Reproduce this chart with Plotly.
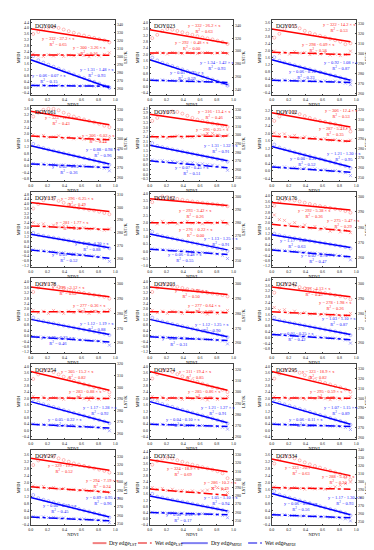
import plotly.graph_objects as go

# ---------------- data ----------------
doy = ["DOY004", "DOY023", "DOY055", "DOY061", "DOY075", "DOY102",
       "DOY137", "DOY162", "DOY176", "DOY178", "DOY203", "DOY242",
       "DOY254", "DOY274", "DOY295", "DOY297", "DOY322", "DOY334"]

ndvi = [0.03, 0.09, 0.15, 0.21, 0.27, 0.33, 0.39, 0.45,
        0.51, 0.57, 0.63, 0.69, 0.75, 0.81, 0.87, 0.93]
fit_ndvi = [0.0, 0.93]

mpdi_range = [[-0.55, 4.55], [-0.55, 4.15], [-0.55, 3.75], [-0.95, 3.75], [-0.45, 4.35], [-0.55, 3.45],
              [-1.35, 5.0], [-1.1, 4.1], [-1.3, 4.3], [-1.3, 4.3], [-1.3, 4.3], [-1.1, 4.1],
              [-0.55, 4.15], [-0.55, 4.15], [-0.55, 4.15], [-0.45, 3.85], [-0.45, 4.5], [-0.45, 3.85]]
mpdi_dtick = [0.4, 0.4, 0.4, 0.4, 0.3, 0.4, 0.4, 0.5, 0.4, 0.4, 0.4, 0.4, 0.4, 0.4, 0.4, 0.4, 0.4, 0.4]
lst_range = [[252, 346], [232, 348], [258, 334], [256, 334], [246, 334], [246, 324],
             [253, 312], [245, 304], [254, 303], [253, 304], [253, 304], [253, 304],
             [255, 320], [258, 325], [258, 335], [248, 338], [244, 336], [246, 340]]
lst_dtick = [10, 20, 10, 10, 10, 10, 10, 10, 10, 10, 10, 10, 10, 10, 10, 10, 10, 10]

# fitted edges: value at NDVI=0 and at the end of the fit
dry_lst_fit = [[335, 319.7], [332.9, 312], [324.9, 312], [328.5, 314.5], [324.3, 311.1], [317, 302.2],
               [303.7, 296.7], [298.7, 293.4], [296.1, 291.2], [297.9, 291.3], [297.9, 292.8], [297.9, 291.3],
               [313.5, 297.3], [318.3, 301.6], [327.3, 308], [328.1, 313.7], [324, 309.3], [328.7, 308]]
wet_lst_fit = [[302.3, 301.8], [297, 297], [301.3, 299], [302.8, 298.9], [297.9, 298.8], [292.8, 287.3],
               [285.4, 282.5], [279.8, 279.8], [281.9, 277.5], [281.1, 281.1], [281.1, 280.5], [281.1, 278.5],
               [290.8, 290.2], [294.9, 294.3], [300.4, 300], [293.9, 287.6], [288.2, 280.8], [293, 291.1]]
dry_mpdi_fit = [[1.85, -0.04], [1.66, 0.11], [1.47, 0.31], [1.26, 0.13], [1.85, 0.85], [1.29, 0.21],
                [1.44, 0.30], [1.19, 0.10], [1.11, 0.16], [1.22, 0.10], [1.22, -0.07], [1.24, 0.20],
                [1.80, 0.48], [1.80, 0.48], [1.80, 0.39], [1.14, 0.02], [1.48, 0.49], [1.36, 0.15]]
wet_mpdi_fit = [[0.11, 0.06], [0.39, 0.25], [0.31, 0.18], [0.13, -0.10], [0.85, 0.41], [0.21, -0.07],
                [0.11, -0.59], [0.15, -0.22], [-0.01, -0.52], [-0.07, -0.46], [-0.07, -0.35], [0.20, -0.16],
                [0.39, 0.15], [0.39, 0.25], [0.39, 0.25], [0.02, -0.19], [0.39, 0.24], [0.15, -0.02]]

dry_lst = [
    [328.5, 331, 334.5, 336.5, 337, 336, 334, 332, 330, 328, 326.5, 325, 323.5, 322, 320.5, 318],
    [320, 325, 331, 334, 333, 331, 329, 327, 325, 323, 321, 319.5, 318, 316, 314, 311],
    [316, 320, 325, 328, 327.5, 325.5, 323, 321, 319.5, 318, 316.5, 315, 313.5, 312, 309.5, 310.5],
    [323, 327, 330, 331, 331, 329.5, 327, 325, 323, 321.5, 320, 318.5, 317, 315.5, 313.5, 312],
    [316.5, 320, 324, 326.5, 327.5, 327, 325, 322.5, 320, 318, 316.5, 315, 313.5, 312.5, 311, 309.5],
    [308.5, 313, 316.5, 318, 317, 315.5, 313.5, 311.5, 310, 308.5, 307.5, 306, 305, 303.5, 301, 297.5],
    [299, 302.5, 305.5, 307, 306.5, 305, 303.5, 302, 300.5, 299.5, 299, 298, 297.5, 296.5, 295.5, 294.5],
    [296, 299, 300.5, 300, 299.2, 298.5, 297.8, 297, 296.5, 296, 295.5, 295, 294.6, 294.2, 293.6, 292.8],
    [294, 296.5, 298, 298, 297.5, 296.8, 296, 295.2, 294.5, 293.8, 293.2, 292.6, 292, 291.4, 290.6, 289.5],
    [294.5, 297.5, 299.5, 299.8, 299, 298, 297, 296, 295.2, 294.5, 293.8, 293.2, 292.6, 292, 291.2, 290],
    [294.5, 297.5, 299.5, 299.5, 298.8, 298, 297.2, 296.4, 295.8, 295.2, 294.6, 294, 293.5, 293, 292.4, 291.5],
    [294, 297.5, 299.5, 299.5, 298.8, 297.8, 297, 296, 295.2, 294.4, 293.7, 293, 292.4, 291.7, 290.8, 289.5],
    [307, 311, 314, 314.5, 313, 311, 309, 307, 305.5, 304, 302.5, 301.5, 300, 299, 297.5, 295.5],
    [312, 316, 319, 319.5, 318, 316, 314, 312, 310.5, 309, 307.5, 306, 304.5, 303.5, 302, 300],
    [320, 325, 328.5, 329.5, 328, 326, 323.5, 321, 319, 317, 315.5, 314, 312.5, 311, 309, 306.5],
    [320, 325.5, 329.5, 331, 330, 328, 326, 324, 322, 320.5, 319, 317.5, 316, 314.5, 313, 311],
    [318, 322.5, 325.5, 326.5, 325.5, 323.5, 321.5, 319.5, 318, 316.5, 315, 313.5, 312, 310, 307.5, 301.5],
    [323, 329, 332, 331.5, 329.5, 327, 324.5, 322, 320, 318, 316, 314, 312, 310, 306, 303],
]
wet_lst = [
    [303.5, 301, 300.5, 302.5, 301, 303, 300.5, 302, 301, 303, 301.5, 300, 302, 301, 303, 305],
    [296, 298, 297, 295.5, 298, 297, 296, 298.5, 297, 296, 297.5, 298, 296.5, 297, 298, 296],
    [302.5, 300, 301.5, 299.5, 302, 300.5, 301, 299, 300.5, 299.5, 301, 298.5, 299.5, 298, 299, 302.5],
    [304, 302.5, 303.5, 301.5, 302, 303, 300.5, 301.5, 300, 301, 299.5, 300.5, 299, 298.5, 299.5, 301],
    [299, 297, 298.5, 296.5, 298, 299, 297, 298.5, 297.5, 299, 300, 301.5, 302, 300, 298.5, 300],
    [296, 294.5, 295, 292.5, 293.5, 291, 292, 290.5, 291, 289.5, 290, 288.5, 289, 288, 287.5, 288.5],
    [288, 286.5, 287, 285, 286, 284.5, 285.5, 284, 284.5, 283.5, 284, 283, 283.5, 282.5, 282, 283],
    [280.5, 279, 281, 279.5, 280.5, 279, 280, 281, 279.5, 280, 279, 280.5, 279.5, 280, 281, 279],
    [288, 285, 284.5, 282, 283, 280.5, 281.5, 279.5, 280.5, 278.5, 279.5, 277.5, 278.5, 277, 278, 276.5],
    [282, 280.5, 281.5, 280, 282, 281, 280, 281.5, 280.5, 282, 281, 280, 281.5, 280.5, 281.5, 282.5],
    [282, 280.5, 281.5, 280, 281.5, 281, 280, 281.5, 280.5, 281.5, 280.5, 279.5, 281, 280, 281, 282],
    [284, 282, 282.5, 280.5, 281.5, 280, 280.5, 279.5, 280, 279, 279.5, 278.5, 279, 278, 278.5, 280],
    [292, 290, 291.5, 289.5, 291, 290.5, 289.5, 291, 290, 291.5, 290, 289, 290.5, 289.5, 290.5, 292],
    [296, 294, 295.5, 293.5, 295, 294.5, 293.5, 295, 294, 295.5, 294, 293, 294.5, 293.5, 294.5, 296],
    [301.5, 299.5, 301, 299, 300.5, 300, 299, 300.5, 299.5, 301, 299.5, 298.5, 300, 299, 300, 301.5],
    [295, 293.5, 294.5, 292, 293, 291.5, 292, 290.5, 291, 289.5, 290.5, 289, 289.5, 288, 288.5, 287],
    [290, 288, 289, 286.5, 288, 286, 286.5, 285, 286, 284.5, 286, 287, 289, 290, 288, 284],
    [294, 292, 293.5, 291.5, 293, 292, 291, 292.5, 291.5, 292, 291, 292.5, 294, 296, 298, 300],
]
dry_mpdi = [
    [2.1, 1.82, 1.66, 1.52, 1.38, 1.25, 1.12, 0.99, 0.86, 0.73, 0.61, 0.48, 0.36, 0.24, 0.1, -0.05],
    [1.8, 1.62, 1.48, 1.37, 1.27, 1.16, 1.06, 0.95, 0.85, 0.74, 0.64, 0.53, 0.43, 0.32, 0.2, 0.05],
    [1.62, 1.42, 1.32, 1.24, 1.16, 1.08, 1.0, 0.93, 0.85, 0.77, 0.7, 0.62, 0.55, 0.46, 0.38, 0.28],
    [1.38, 1.22, 1.12, 1.03, 0.96, 0.88, 0.8, 0.73, 0.65, 0.58, 0.5, 0.43, 0.35, 0.27, 0.18, 0.08],
    [1.98, 1.8, 1.72, 1.65, 1.58, 1.51, 1.45, 1.38, 1.31, 1.25, 1.18, 1.11, 1.05, 0.97, 0.9, 0.8],
    [1.4, 1.24, 1.15, 1.07, 0.99, 0.92, 0.85, 0.78, 0.71, 0.64, 0.56, 0.49, 0.42, 0.34, 0.26, 0.15],
    [1.55, 1.38, 1.3, 1.22, 1.14, 1.07, 0.99, 0.91, 0.84, 0.76, 0.68, 0.6, 0.53, 0.45, 0.36, 0.25],
    [1.35, 1.14, 1.05, 0.97, 0.89, 0.82, 0.75, 0.67, 0.6, 0.53, 0.45, 0.38, 0.3, 0.22, 0.14, 0.02],
    [1.2, 1.08, 1.0, 0.93, 0.86, 0.8, 0.73, 0.67, 0.6, 0.54, 0.48, 0.41, 0.35, 0.28, 0.2, 0.1],
    [1.35, 1.16, 1.07, 0.99, 0.92, 0.84, 0.76, 0.69, 0.61, 0.54, 0.46, 0.39, 0.31, 0.23, 0.15, 0.05],
    [1.35, 1.15, 1.06, 0.97, 0.88, 0.8, 0.71, 0.62, 0.53, 0.45, 0.36, 0.28, 0.19, 0.1, 0.01, -0.1],
    [1.36, 1.18, 1.1, 1.03, 0.96, 0.89, 0.82, 0.75, 0.68, 0.61, 0.54, 0.47, 0.41, 0.33, 0.25, 0.15],
    [1.95, 1.74, 1.64, 1.55, 1.46, 1.37, 1.28, 1.19, 1.1, 1.01, 0.92, 0.83, 0.74, 0.65, 0.56, 0.45],
    [1.93, 1.75, 1.65, 1.55, 1.47, 1.37, 1.29, 1.19, 1.11, 1.01, 0.93, 0.83, 0.75, 0.65, 0.56, 0.44],
    [1.95, 1.73, 1.63, 1.54, 1.44, 1.35, 1.25, 1.16, 1.06, 0.97, 0.87, 0.78, 0.68, 0.59, 0.49, 0.36],
    [1.28, 1.1, 1.01, 0.93, 0.86, 0.78, 0.71, 0.63, 0.56, 0.48, 0.4, 0.33, 0.25, 0.18, 0.1, 0.0],
    [1.62, 1.43, 1.37, 1.3, 1.23, 1.17, 1.1, 1.04, 0.97, 0.9, 0.84, 0.77, 0.7, 0.63, 0.55, 0.45],
    [1.5, 1.3, 1.21, 1.13, 1.05, 0.97, 0.89, 0.81, 0.72, 0.64, 0.56, 0.48, 0.4, 0.32, 0.23, 0.12],
]
wet_mpdi = [
    [0.14, 0.09, 0.12, 0.08, 0.11, 0.13, 0.08, 0.1, 0.12, 0.07, 0.09, 0.11, 0.06, 0.08, 0.04, -0.02],
    [0.42, 0.37, 0.4, 0.36, 0.38, 0.35, 0.37, 0.33, 0.36, 0.32, 0.34, 0.3, 0.31, 0.27, 0.22, 0.1],
    [0.33, 0.28, 0.32, 0.29, 0.31, 0.27, 0.3, 0.26, 0.29, 0.25, 0.27, 0.23, 0.25, 0.2, 0.14, 0.05],
    [0.16, 0.1, 0.13, 0.08, 0.1, 0.06, 0.07, 0.03, 0.05, 0.0, 0.02, -0.03, -0.04, -0.08, -0.14, -0.3],
    [0.9, 0.84, 0.86, 0.8, 0.82, 0.76, 0.78, 0.71, 0.73, 0.66, 0.66, 0.6, 0.58, 0.52, 0.44, 0.25],
    [0.24, 0.18, 0.21, 0.15, 0.17, 0.12, 0.14, 0.08, 0.1, 0.04, 0.06, 0.0, 0.01, -0.05, -0.1, -0.25],
    [0.12, 0.06, 0.04, -0.03, -0.04, -0.12, -0.13, -0.2, -0.22, -0.28, -0.3, -0.37, -0.4, -0.47, -0.6, -0.85],
    [0.17, 0.14, 0.12, 0.09, 0.08, 0.05, 0.03, 0.0, -0.02, -0.05, -0.07, -0.1, -0.13, -0.18, -0.27, -0.5],
    [0.0, -0.04, -0.06, -0.1, -0.12, -0.16, -0.18, -0.22, -0.25, -0.28, -0.32, -0.35, -0.39, -0.43, -0.52, -0.75],
    [-0.05, -0.09, -0.1, -0.14, -0.15, -0.19, -0.2, -0.24, -0.25, -0.29, -0.31, -0.34, -0.36, -0.4, -0.48, -0.7],
    [-0.05, -0.08, -0.09, -0.12, -0.12, -0.15, -0.16, -0.19, -0.2, -0.22, -0.24, -0.27, -0.28, -0.32, -0.38, -0.6],
    [0.22, 0.17, 0.17, 0.13, 0.13, 0.09, 0.09, 0.05, 0.04, 0.01, -0.01, -0.05, -0.06, -0.1, -0.18, -0.4],
    [0.42, 0.37, 0.38, 0.34, 0.35, 0.31, 0.32, 0.28, 0.29, 0.25, 0.26, 0.22, 0.22, 0.18, 0.12, -0.02],
    [0.41, 0.37, 0.39, 0.35, 0.37, 0.34, 0.35, 0.31, 0.33, 0.3, 0.31, 0.28, 0.28, 0.25, 0.2, 0.08],
    [0.42, 0.37, 0.39, 0.35, 0.37, 0.33, 0.35, 0.31, 0.33, 0.3, 0.31, 0.27, 0.28, 0.24, 0.19, 0.06],
    [0.05, 0.01, 0.03, -0.01, 0.0, -0.04, -0.03, -0.07, -0.06, -0.1, -0.09, -0.13, -0.13, -0.16, -0.2, -0.3],
    [0.41, 0.37, 0.39, 0.35, 0.37, 0.34, 0.35, 0.31, 0.33, 0.3, 0.31, 0.28, 0.28, 0.25, 0.2, 0.05],
    [0.18, 0.13, 0.15, 0.11, 0.12, 0.08, 0.09, 0.06, 0.07, 0.03, 0.04, 0.01, 0.0, -0.03, -0.08, -0.2],
]

eq_dry_lst = ["y = 332 - 37.2 × x", "y = 332 - 26.2 × x", "y = 322 - 14.2 × x", "y = 323 - 12.2 × x",
              "y = 316 - 13.4 × x", "y = 306 - 12.4 × x", "y = 296 - 6.25 × x", "y = 293 - 3.42 × x",
              "y = 292 - 5.38 × x", "y = 296 - 3.12 × x", "y = 298 - 2.90 × x", "y = 297 - 4.13 × x",
              "y = 305 - 15.2 × x", "y = 311 - 19.4 × x", "y = 323 - 18.9 × x", "y = 329 - 19.2 × x",
              "y = 324 - 18.9 × x", "y = 323 - 20.1 × x"]
r2_dry_lst = ["0.65", "0.63", "0.53", "0.43", "0.46", "0.53", "0.49", "0.26", "0.36",
              "0.62", "0.50", "0.49", "0.82", "0.85", "0.82", "0.52", "0.69", "0.63"]
eq_wet_lst = ["y = 300 - 3.26 × x", "y = 292 + 0.48 × x", "y = 298 - 6.09 × x", "y = 306 - 6.02 × x",
              "y = 296 - 0.25 × x", "y = 287 - 5.41 × x", "y = 281 - 1.77 × x", "y = 276 + 0.22 × x",
              "y = 275 - 5.47 × x", "y = 277 - 0.36 × x", "y = 277 - 0.64 × x", "y = 278 - 1.98 × x",
              "y = 283 - 0.88 × x", "y = 285 - 0.86 × x", "y = 295 - 0.59 × x", "y = 294 - 7.19 × x",
              "y = 286 - 10.2 × x", "y = 288 - 5.12 × x"]
r2_wet_lst = ["0.16", "0.00", "0.58", "0.44", "0.00", "0.35", "0.10", "0.00", "0.29",
              "0.07", "0.06", "0.26", "0.06", "0.05", "0.09", "0.24", "0.49", "0.24"]
eq_dry_mpdi = ["y = 1.31 - 1.48 × x", "y = 1.34 - 1.42 × x", "y = 0.92 - 1.08 × x", "y = 0.88 - 0.98 × x",
               "y = 1.31 - 1.32 × x", "y = 1.21 - 1.30 × x", "y = 1.20 - 1.20 × x", "y = 1.13 - 1.25 × x",
               "y = 1.17 - 1.03 × x", "y = 1.12 - 1.19 × x", "y = 1.12 - 1.25 × x", "y = 1.03 - 1.10 × x",
               "y = 1.17 - 1.28 × x", "y = 1.21 - 1.27 × x", "y = 1.07 - 1.15 × x", "y = 0.89 - 0.95 × x",
               "y = 1.05 - 1.10 × x", "y = 1.17 - 1.30 × x"]
r2_dry_mpdi = ["0.93", "0.93", "0.87", "0.96", "0.91", "0.95", "0.88", "0.91", "0.63",
               "0.88", "0.90", "0.87", "0.92", "0.91", "0.89", "0.96", "0.94", "0.93"]
eq_wet_mpdi = ["y = 0.06 - 0.07 × x", "y = 0.01 - 0.25 × x", "y = 0.06 - 0.16 × x", "y = 0.02 - 0.25 × x",
               "y = 0.07 - 0.45 × x", "y = 0.00 - 0.21 × x", "y = 0.01 - 0.53 × x", "y = 0.06 - 0.48 × x",
               "y = 0.02 - 0.70 × x", "y = 0.05 - 0.22 × x", "y = 0.03 - 0.18 × x", "y = 0.01 - 0.25 × x",
               "y = 0.05 - 0.22 × x", "y = 0.04 - 0.10 × x", "y = 0.06 - 0.11 × x", "y = 0.00 - 0.13 × x",
               "y = 0.00 - 0.18 × x", "y = 0.06 - 0.29 × x"]
r2_wet_mpdi = ["0.15", "0.59", "0.23", "0.36", "0.51", "0.52", "0.52", "0.55", "0.47",
               "0.46", "0.31", "0.42", "0.43", "0.17", "0.29", "0.45", "0.17", "0.56"]

legend_names = ["Dry edge<sub>LST</sub>", "Wet edge<sub>LST</sub>",
                "Dry edge<sub>MPDI</sub>", "Wet edge<sub>MPDI</sub>"]

# label positions inside each panel (fraction of panel width / height)
pos_dry_lst = [(0.33, 0.72), (0.65, 0.88), (0.8, 0.9), (0.37, 0.805), (0.78, 0.88), (0.82, 0.9),
               (0.55, 0.875), (0.55, 0.715), (0.5, 0.715), (0.45, 0.83), (0.5, 0.8), (0.5, 0.82),
               (0.55, 0.86), (0.55, 0.86), (0.55, 0.86), (0.4, 0.76), (0.4, 0.72), (0.35, 0.73)]
pos_wet_lst = [(0.7, 0.6), (0.5, 0.655), (0.55, 0.64), (0.8, 0.565), (0.75, 0.645), (0.75, 0.665),
               (0.5, 0.555), (0.55, 0.465), (0.85, 0.585), (0.7, 0.6), (0.65, 0.6), (0.75, 0.64),
               (0.65, 0.6), (0.65, 0.6), (0.65, 0.6), (0.85, 0.55), (0.85, 0.53), (0.79, 0.605)]
pos_dry_mpdi = [(0.78, 0.305), (0.8, 0.4), (0.82, 0.395), (0.85, 0.385), (0.85, 0.435), (0.85, 0.335),
                (0.72, 0.275), (0.85, 0.345), (0.3, 0.31), (0.78, 0.35), (0.75, 0.34), (0.8, 0.42),
                (0.82, 0.38), (0.82, 0.38), (0.82, 0.38), (0.85, 0.33), (0.85, 0.33), (0.87, 0.33)]
pos_wet_mpdi = [(0.22, 0.22), (0.45, 0.265), (0.4, 0.28), (0.45, 0.15), (0.5, 0.145), (0.42, 0.265),
                (0.45, 0.125), (0.42, 0.13), (0.55, 0.12), (0.32, 0.17), (0.35, 0.15), (0.3, 0.22),
                (0.4, 0.22), (0.4, 0.22), (0.4, 0.22), (0.35, 0.22), (0.4, 0.1), (0.35, 0.25)]

# ---------------- figure ----------------
W, H = 374, 550
col_left = [20, 141, 265]
col_w = [86, 85, 86]
row_top0, row_step, row_h = 9, 86.8, 76

RED, BLUE = "#ff0000", "#0000ff"
LRED, LBLUE = "#ff8c8c", "#8c8cff"
FONT = "Liberation Serif"

fig = go.Figure()
layout = dict(width=W, height=H, autosize=False, margin=dict(l=0, r=0, t=0, b=0),
              paper_bgcolor="white", plot_bgcolor="white", showlegend=False,
              font=dict(family=FONT, color="black", size=5))
annotations = []
shapes = []

axis_common = dict(showgrid=False, zeroline=False, showline=True, linecolor="#444444", linewidth=0.7,
                   ticks="inside", ticklen=1.5, tickwidth=0.5, tickcolor="#444444",
                   tickfont=dict(size=4, family=FONT, color="#222222"))

for i in range(18):
    r, c = divmod(i, 3)
    x0 = col_left[c] / W
    x1 = (col_left[c] + col_w[c]) / W
    top = row_top0 + r * row_step
    y1 = 1 - top / H
    y0 = 1 - (top + row_h) / H
    xn = "" if i == 0 else str(i + 1)
    yl = 2 * i + 1
    yr = 2 * i + 2
    xid, ylid, yrid = f"x{xn}", ("y" if yl == 1 else f"y{yl}"), f"y{yr}"

    layout[f"xaxis{xn}"] = dict(axis_common, domain=[x0, x1], anchor=ylid, range=[0, 1.0], dtick=0.2,
                                tickformat=".1f", mirror=True,
                                title=dict(text="NDVI", font=dict(size=4.5, family=FONT), standoff=1))
    layout[f"yaxis{'' if yl == 1 else yl}"] = dict(axis_common, domain=[y0, y1], anchor=xid,
                                                   range=mpdi_range[i], dtick=mpdi_dtick[i], tickformat=".1f",
                                                   title=dict(text="MPDI", font=dict(size=4.5, family=FONT), standoff=1))
    layout[f"yaxis{yr}"] = dict(axis_common, domain=[y0, y1], anchor=xid, overlaying=ylid, side="right",
                                range=lst_range[i], dtick=lst_dtick[i], tickformat="d",
                                title=dict(text="LST/K", font=dict(size=4.5, family=FONT), standoff=1))

    # scatter points
    fig.add_trace(go.Scatter(x=ndvi, y=dry_lst[i], mode="markers", xaxis=xid, yaxis=yrid,
                             marker=dict(symbol="circle-open", size=3, color=LRED, line=dict(width=0.6))))
    fig.add_trace(go.Scatter(x=ndvi, y=wet_lst[i], mode="markers", xaxis=xid, yaxis=yrid,
                             marker=dict(symbol="x-thin-open", size=3, color=LRED, line=dict(width=0.7, color=LRED))))
    fig.add_trace(go.Scatter(x=ndvi, y=dry_mpdi[i], mode="markers", xaxis=xid, yaxis=ylid,
                             marker=dict(symbol="circle-open", size=3, color=LBLUE, line=dict(width=0.6))))
    fig.add_trace(go.Scatter(x=ndvi, y=wet_mpdi[i], mode="markers", xaxis=xid, yaxis=ylid,
                             marker=dict(symbol="x-thin-open", size=3, color=LBLUE, line=dict(width=0.7, color=LBLUE))))
    # fitted edges
    fig.add_trace(go.Scatter(x=fit_ndvi, y=dry_lst_fit[i], mode="lines", xaxis=xid, yaxis=yrid,
                             line=dict(color=RED, width=1.5)))
    fig.add_trace(go.Scatter(x=fit_ndvi, y=wet_lst_fit[i], mode="lines", xaxis=xid, yaxis=yrid,
                             line=dict(color=RED, width=1.5, dash="dashdot")))
    fig.add_trace(go.Scatter(x=fit_ndvi, y=dry_mpdi_fit[i], mode="lines", xaxis=xid, yaxis=ylid,
                             line=dict(color=BLUE, width=1.5)))
    fig.add_trace(go.Scatter(x=fit_ndvi, y=wet_mpdi_fit[i], mode="lines", xaxis=xid, yaxis=ylid,
                             line=dict(color=BLUE, width=1.5, dash="dashdot")))

    xref, yref = f"{xid} domain", f"{ylid} domain"
    annotations.append(dict(text=doy[i], xref=xref, yref=yref, x=0.03, y=0.985, xanchor="left", yanchor="top",
                            showarrow=False, font=dict(size=5.8, family=FONT, color="black")))
    for eqs, r2s, pos, col in ((eq_dry_lst, r2_dry_lst, pos_dry_lst, "#ff2020"),
                               (eq_wet_lst, r2_wet_lst, pos_wet_lst, "#ff2020"),
                               (eq_dry_mpdi, r2_dry_mpdi, pos_dry_mpdi, "#2020ff"),
                               (eq_wet_mpdi, r2_wet_mpdi, pos_wet_mpdi, "#2020ff")):
        annotations.append(dict(text=f"{eqs[i]}<br>R<sup>2</sup> = {r2s[i]}", xref=xref, yref=yref,
                                x=pos[i][0], y=pos[i][1], xanchor="center", yanchor="middle", align="center",
                                showarrow=False, font=dict(size=4.5, family=FONT, color=col)))

# legend (drawn as keys + labels at the bottom)
leg_y = 1 - 537 / H
leg_keys = [(83, 97, "#f28080", "solid"), (129, 143, "#f28080", "dashdot"),
            (173, 200, "#8080f2", "solid"), (241, 255, "#8080f2", "dashdot")]
for (kx0, kx1, kc, kd), name in zip(leg_keys, legend_names):
    shapes.append(dict(type="line", xref="paper", yref="paper", x0=kx0 / W, x1=kx1 / W, y0=leg_y, y1=leg_y,
                       line=dict(color=kc, width=2, dash=kd)))
    annotations.append(dict(text=name, xref="paper", yref="paper", x=(kx1 + 1) / W, y=leg_y,
                            xanchor="left", yanchor="middle", showarrow=False,
                            font=dict(size=5.6, family=FONT, color="black")))

layout["annotations"] = annotations
layout["shapes"] = shapes
fig.update_layout(**layout)
fig.write_html("out.html")
